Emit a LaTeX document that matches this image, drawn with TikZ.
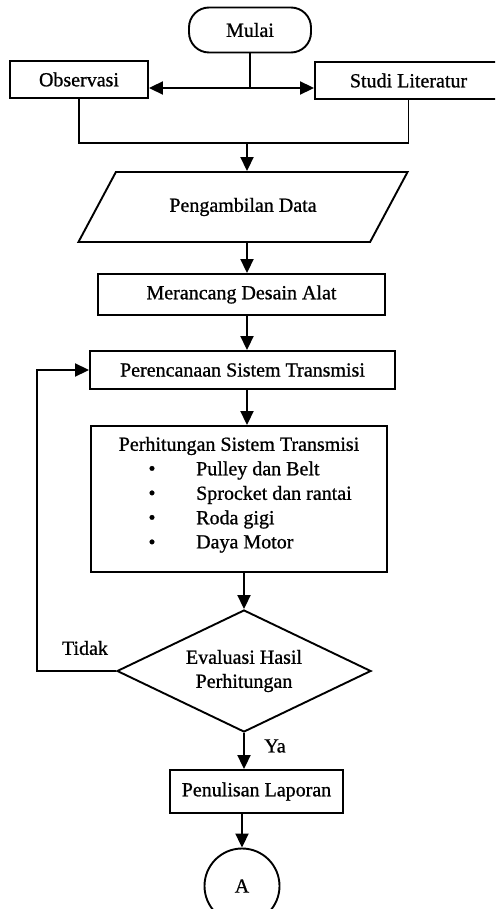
\documentclass[tikz,border=0pt]{standalone}
\usepackage{fontspec}
\setmainfont{Liberation Serif}[UprightFeatures={FakeBold=0.9}]
\usepackage{tikz}
\usetikzlibrary{
  arrows.meta,
  positioning,
  shapes.geometric
}

\begin{document}
\begin{tikzpicture}[
  x=1pt, y=-1pt,
  every node/.style={font=\fontsize{20pt}{24pt}\selectfont},
  box/.style={rectangle, draw, line width=1.9pt, inner sep=0pt},
  term/.style={box, rounded corners=20pt},
  io/.style={trapezium, draw, line width=1.9pt, trapezium left angle=40,
    trapezium right angle=140, trapezium stretches=true, inner sep=0pt},
  decision/.style={diamond, draw, line width=1.9pt, aspect=2.08, inner sep=0pt, align=center},
  conn/.style={circle, draw, line width=1.9pt, inner sep=0pt},
  wire/.style={line width=1.9pt},
  flow/.style={wire, -{Triangle[length=14pt, width=13pt]}},
  lab/.style={inner sep=0pt}
]
  % page frame (the connector circle runs off the bottom)
  \useasboundingbox (0,0) rectangle (495,909);
  \clip (0,0) rectangle (495,909);

  % start and the two first steps
  \node[term, minimum width=122pt, minimum height=45pt] (mulai) at (250,30) {Mulai};
  \node[box, minimum width=138pt, minimum height=37pt] (obs) at (79,79.5) {Observasi};
  \node[box, minimum width=187pt, minimum height=37pt] (studi) at (408.5,80.5) {Studi Literatur};

  % main column
  \node[io, minimum width=330pt, minimum height=70pt] (data) at (243,207) {Pengambilan Data};
  \node[box, minimum width=287pt, minimum height=41pt] (desain) at (241.5,294.5) {Merancang Desain Alat};
  \node[box, minimum width=305pt, minimum height=38pt] (rencana) at (242.5,370) {Perencanaan Sistem Transmisi};

  % calculation box with its list
  \node[box, minimum width=296pt, minimum height=146pt] (hitung) at (239,499) {};
  \node[lab] (judul) at (239,446) {Perhitungan Sistem Transmisi};
  \foreach \txt [count=\i] in {Pulley dan Belt, Sprocket dan rantai, Roda gigi, Daya Motor}{
    \node[lab] (dot\i) at (152,{446+24.5*\i}) {\textbullet};
    \node[lab, anchor=west] (item\i) at (196,{446+24.5*\i}) {\txt};
  }

  % decision and end
  \node[decision, minimum width=254pt, minimum height=122pt] (eval) at (244,671) {Evaluasi Hasil\\Perhitungan};
  \node[box, minimum width=173pt, minimum height=43pt] (lapor) at (256.5,791.5) {Penulisan Laporan};
  \node[conn, minimum size=75pt] (kon) at (242,886) {A};

  % branch labels
  \node[lab] (tidak) at (85,648) {Tidak};
  \node[lab] (ya) at (275,746) {Ya};

  % connectors
  \coordinate (cabang) at (250,88);
  \coordinate (gabung) at (247,143);
  \coordinate (balik) at (37,671);
  \draw[wire] (mulai) -- (cabang);
  \draw[flow] (cabang) -- (cabang -| obs.east);
  \draw[flow] (cabang) -- (cabang -| studi.west);
  \draw[wire] (obs.south) |- (gabung) -| (studi.south);
  \draw[flow] (gabung) -- (gabung |- data.north);
  \draw[flow] (gabung |- data.south) -- (gabung |- desain.north);
  \draw[flow] (gabung |- desain.south) -- (gabung |- rencana.north);
  \draw[flow] (gabung |- rencana.south) -- (gabung |- hitung.north);
  \draw[flow] (eval.north |- hitung.south) -- (eval.north);
  \draw[flow] (eval.west) -- (balik) |- (rencana.west);
  \draw[flow] (eval.south) -- (eval.south |- lapor.north);
  \draw[flow] (kon.north |- lapor.south) -- (kon.north);

\end{tikzpicture}
\end{document}
